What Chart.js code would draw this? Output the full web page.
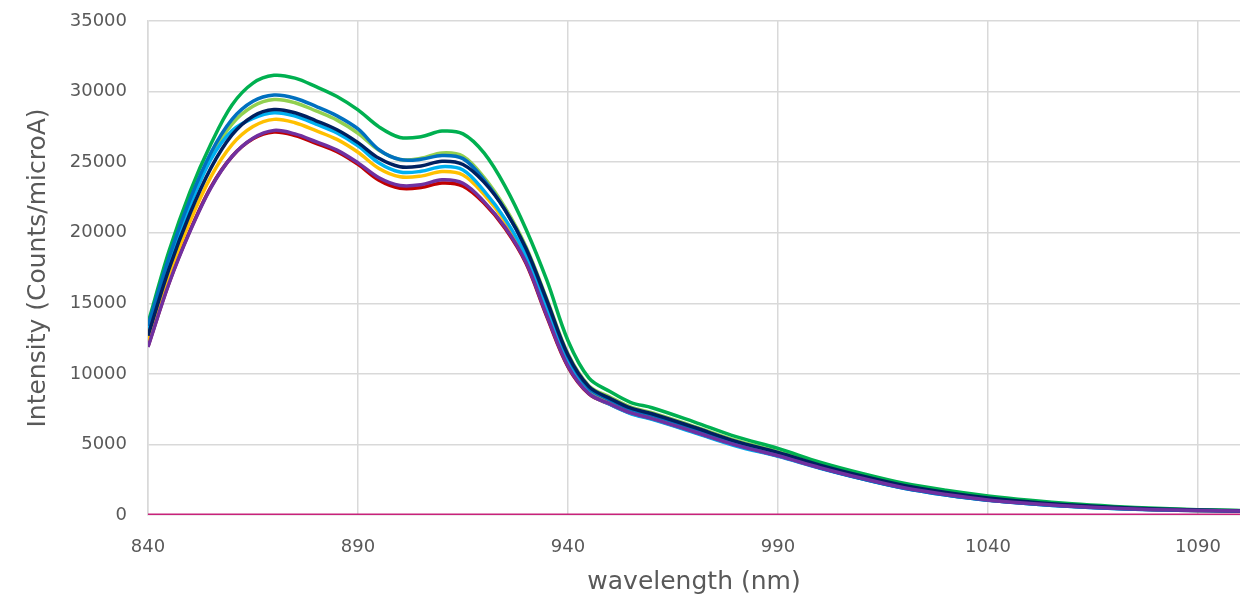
<!DOCTYPE html>
<html>
<head>
<meta charset="utf-8">
<title>Spectra</title>
<script src="https://cdn.jsdelivr.net/npm/chart.js@4.4.1/dist/chart.umd.min.js"></script>
<style>
  html, body { margin: 0; padding: 0; background: #ffffff; }
  #wrap { width: 1243px; height: 605px; position: relative; }
</style>
</head>
<body>
<div id="wrap"><canvas id="spectra"></canvas></div>
<script>
// Wavelength samples (nm)
const wavelengths = [840, 845, 850, 855, 860, 865, 870, 875, 880, 885, 890, 895, 900, 905, 910, 915, 920, 925, 930, 935, 940, 945, 950, 955, 960, 970, 980, 990, 1000, 1010, 1020, 1030, 1040, 1050, 1060, 1070, 1080, 1090, 1100];

// Intensity (Counts/microA) per spectrum
const seriesGreen     = [13600, 18700, 22900, 26300, 29050, 30600, 31150, 30950, 30350, 29650, 28700, 27500, 26750, 26800, 27200, 27000, 25650, 23300, 20250, 16600, 12350, 9700, 8750, 7970, 7600, 6600, 5550, 4720, 3750, 2950, 2250, 1750, 1350, 1040, 790, 610, 470, 380, 320];
const seriesBlue      = [13400, 18240, 22340, 25680, 28030, 29310, 29750, 29530, 28950, 28280, 27350, 25880, 25185, 25200, 25475, 25250, 23750, 21620, 18840, 15100, 11235, 8985, 8135, 7450, 7060, 6110, 5130, 4305, 3350, 2565, 1900, 1420, 1040, 800, 600, 465, 370, 314, 276];
const seriesLightGreen= [13100, 18010, 22060, 25370, 27700, 28960, 29435, 29210, 28630, 27980, 27050, 25840, 25185, 25270, 25650, 25425, 23925, 21790, 19005, 15275, 11415, 9150, 8355, 7635, 7255, 6285, 5280, 4485, 3570, 2790, 2105, 1615, 1225, 940, 715, 550, 430, 353, 302];
const seriesDarkBlue  = [12700, 17435, 21360, 24595, 26930, 28260, 28730, 28500, 27930, 27290, 26380, 25270, 24675, 24730, 25060, 24830, 23580, 21620, 18890, 15175, 11340, 9095, 8265, 7565, 7175, 6215, 5220, 4435, 3530, 2760, 2090, 1600, 1210, 930, 705, 545, 425, 350, 300];
const seriesLightBlue = [13200, 17895, 21920, 25215, 27225, 28100, 28500, 28260, 27700, 27070, 26150, 24940, 24300, 24350, 24680, 24445, 22960, 20980, 18370, 14550, 10820, 8655, 7825, 7170, 6770, 5845, 4890, 4150, 3310, 2565, 1900, 1420, 1040, 800, 600, 465, 370, 314, 276];
const seriesGold      = [12300, 16975, 20800, 23975, 26240, 27520, 28030, 27790, 27230, 26610, 25700, 24550, 23960, 24010, 24340, 24095, 22720, 20800, 18205, 14425, 10765, 8730, 7975, 7305, 6910, 5970, 5010, 4250, 3400, 2640, 1970, 1490, 1100, 845, 640, 495, 390, 327, 285];
const seriesPurple    = [11900, 16400, 20100, 23200, 25400, 26700, 27250, 27000, 26450, 25850, 24950, 23900, 23350, 23400, 23750, 23500, 22200, 20400, 17900, 14100, 10550, 8600, 7870, 7230, 6830, 5900, 4950, 4200, 3350, 2600, 1930, 1450, 1070, 820, 620, 480, 380, 320, 280];
const seriesRed       = [11950, 16450, 20150, 23250, 25400, 26650, 27130, 26880, 26330, 25740, 24840, 23720, 23150, 23200, 23520, 23300, 22100, 20310, 17830, 14025, 10500, 8570, 7845, 7210, 6810, 5880, 4930, 4185, 3340, 2590, 1920, 1440, 1060, 815, 615, 475, 378, 318, 278];
const seriesBaseline  = [0, 0, 0, 0, 0, 0, 0, 0, 0, 0, 0, 0, 0, 0, 0, 0, 0, 0, 0, 0, 0, 0, 0, 0, 0, 0, 0, 0, 0, 0, 0, 0, 0, 0, 0, 0, 0, 0, 0];

// Axis ticks
const xTicks = [840, 890, 940, 990, 1040, 1090];
const yTicks = [0, 5000, 10000, 15000, 20000, 25000, 30000, 35000];

const toPoints = ys => ys.map((y, i) => ({ x: wavelengths[i], y: y }));

// first entry is painted on top
const lines = [
  { data: seriesPurple,     color: '#7030A0' },
  { data: seriesDarkBlue,   color: '#002060' },
  { data: seriesBlue,       color: '#0070C0' },
  { data: seriesGreen,      color: '#00B050' },
  { data: seriesLightBlue,  color: '#00B0F0' },
  { data: seriesGold,       color: '#FFC000' },
  { data: seriesLightGreen, color: '#92D050' },
  { data: seriesRed,        color: '#C00000' },
  { data: seriesBaseline,   color: '#C7227A', width: 3 }
];

const textColor = '#595959';
const gridColor = '#D9D9D9';
const tickFont = { family: 'DejaVu Sans', size: 18 };
const titleFont = { family: 'DejaVu Sans', size: 25 };

new Chart(document.getElementById('spectra'), {
  type: 'line',
  data: {
    datasets: lines.map(l => ({
      data: toPoints(l.data),
      borderColor: l.color,
      backgroundColor: l.color,
      borderWidth: l.width || 3.5,
      pointRadius: 0,
      fill: false,
      tension: 0.35
    }))
  },
  options: {
    responsive: true,
    maintainAspectRatio: false,
    animation: false,
    events: [],
    layout: { padding: { top: 21, right: 3, left: 0, bottom: 0 } },
    plugins: { legend: { display: false }, tooltip: { enabled: false } },
    scales: {
      x: {
        type: 'linear',
        min: 840,
        max: 1100,
        afterBuildTicks: s => { s.ticks = xTicks.map(v => ({ value: v })); },
        afterFit: s => { s.height = 90; },
        grid: { color: gridColor, lineWidth: 1.5, drawTicks: false },
        border: { display: false },
        ticks: { color: textColor, font: tickFont, padding: 22, maxRotation: 0, callback: v => String(v) },
        title: { display: true, text: 'wavelength (nm)', color: textColor, font: titleFont, padding: { top: 0, bottom: 8 } }
      },
      y: {
        min: 0,
        max: 35000,
        afterBuildTicks: s => { s.ticks = yTicks.map(v => ({ value: v })); },
        afterFit: s => { s.width = 148; s.paddingTop = 0; s.paddingBottom = 0; },
        grid: { color: gridColor, lineWidth: 1.5, drawTicks: false },
        border: { display: true, color: gridColor, width: 1.5 },
        ticks: { color: textColor, font: tickFont, padding: 21, callback: v => String(v) },
        title: { display: true, text: 'Intensity (Counts/microA)', color: textColor, font: titleFont, padding: { top: 23, bottom: 0 } }
      }
    }
  }
});
</script>
</body>
</html>
